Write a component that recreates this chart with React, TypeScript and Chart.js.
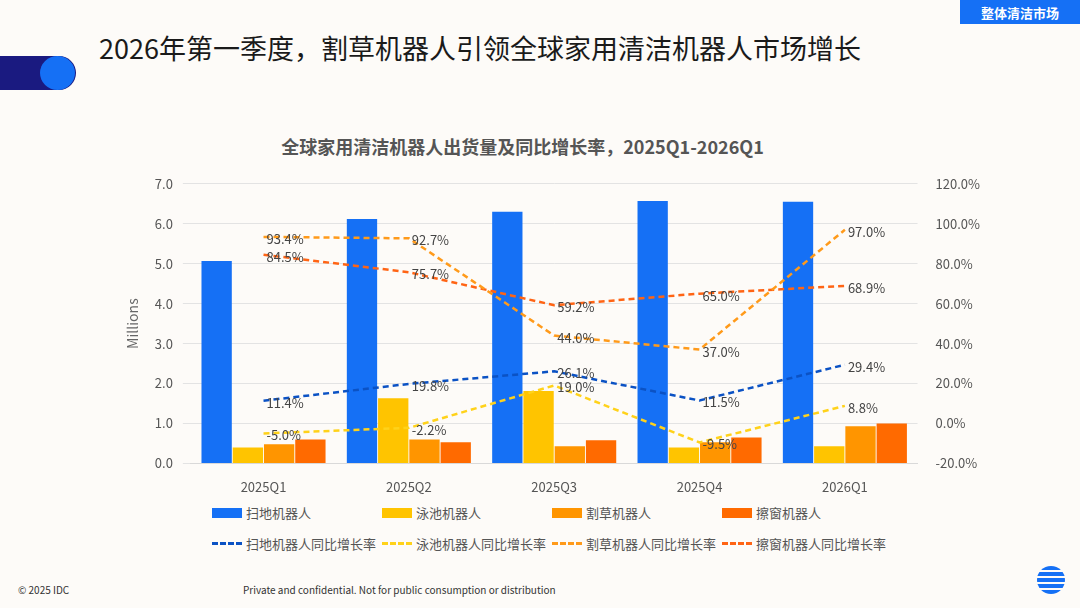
import React, { useEffect, useRef } from 'react'
import { Chart, registerables, type Plugin } from 'chart.js'

Chart.register(...registerables)

const quarters = ['2025Q1', '2025Q2', '2025Q3', '2025Q4', '2026Q1']
const barNames = ['扫地机器人', '泳池机器人', '割草机器人', '擦窗机器人']
const lineNames = ['扫地机器人同比增长率', '泳池机器人同比增长率', '割草机器人同比增长率', '擦窗机器人同比增长率']
const sweeper = [5.07, 6.12, 6.3, 6.57, 6.55]
const pool = [0.4, 1.63, 1.81, 0.4, 0.43]
const mower = [0.48, 0.6, 0.43, 0.53, 0.93]
const windowBot = [0.6, 0.53, 0.58, 0.65, 1.0]
const sweeperYoY = [11.4, 19.8, 26.1, 11.5, 29.4]
const poolYoY = [-5.0, -2.2, 19.0, -9.5, 8.8]
const mowerYoY = [93.4, 92.7, 44.0, 37.0, 97.0]
const windowYoY = [84.5, 75.7, 59.2, 65.0, 68.9]

const barColors = ['#1570F5', '#FFC400', '#FF9500', '#FF6A00']
const lineColors = ['#0B52C4', '#FFD21A', '#FF9A1A', '#FF6414']
const FONT = '"Noto Sans CJK SC", "Noto Sans", sans-serif'

const lineLabels: Plugin = {
  id: 'lineLabels',
  afterDatasetsDraw(chart) {
    const ctx = chart.ctx
    ctx.save()
    ctx.font = `13px ${FONT}`
    ctx.fillStyle = '#444'
    ctx.textBaseline = 'middle'
    chart.data.datasets.forEach((ds: any, i) => {
      if (ds.type !== 'line') return
      const meta = chart.getDatasetMeta(i)
      meta.data.forEach((pt: any, j) => {
        ctx.fillText(Number(ds.data[j]).toFixed(1) + '%', pt.x + 3, pt.y + 2)
      })
    })
    ctx.restore()
  },
}

export default function App() {
  const canvasRef = useRef<HTMLCanvasElement>(null)

  useEffect(() => {
    if (!canvasRef.current) return
    const bars = [sweeper, pool, mower, windowBot]
    const lines = [sweeperYoY, poolYoY, mowerYoY, windowYoY]
    const chart = new Chart(canvasRef.current, {
      type: 'bar',
      data: {
        labels: quarters,
        datasets: [
          ...bars.map((d, i) => ({
            type: 'bar' as const, label: barNames[i], data: d, backgroundColor: barColors[i],
            yAxisID: 'y', order: 2, categoryPercentage: 0.86, barPercentage: 0.97,
          })),
          ...lines.map((d, i) => ({
            type: 'line' as const, label: lineNames[i], data: d, borderColor: lineColors[i],
            backgroundColor: lineColors[i], borderDash: [6, 4], borderWidth: 2.5, pointRadius: 0,
            yAxisID: 'y1', order: 1, tension: 0,
          })),
        ],
      },
      options: {
        responsive: true,
        maintainAspectRatio: false,
        animation: false,
        layout: { padding: { top: 8, right: 4 } },
        plugins: { legend: { display: false }, tooltip: { enabled: false } },
        scales: {
          x: {
            grid: { display: false },
            border: { color: '#d9d9d9' },
            ticks: { color: '#555', font: { family: FONT, size: 13 }, padding: 8 },
          },
          y: {
            min: 0, max: 7,
            ticks: { stepSize: 1, color: '#555', font: { family: FONT, size: 13 }, callback: (v: any) => Number(v).toFixed(1), padding: 10 },
            grid: { color: '#e3e3e3' },
            border: { display: false },
            title: { display: true, text: 'Millions', color: '#666', font: { family: FONT, size: 14 } },
          },
          y1: {
            position: 'right', min: -20, max: 120,
            ticks: { stepSize: 20, color: '#555', font: { family: FONT, size: 13 }, callback: (v: any) => Number(v).toFixed(1) + '%', padding: 10 },
            grid: { display: false },
            border: { display: false },
          },
        },
      },
      plugins: [lineLabels],
    })
    return () => { chart.destroy() }
  }, [])

  const legendItem = (name: string, color: string, dashed: boolean) => (
    <div key={name} style={{ display: 'flex', alignItems: 'center', width: 170, fontSize: 13, color: '#555' }}>
      {dashed
        ? <span style={{ width: 30, borderTop: `3px dashed ${color}`, marginRight: 4 }} />
        : <span style={{ width: 30, height: 10, background: color, marginRight: 4 }} />}
      {name}
    </div>
  )

  return (
    <div style={{ position: 'fixed', inset: 0, background: '#FDFBF8', fontFamily: FONT, overflow: 'hidden' }}>
      <div style={{ position: 'absolute', left: 0, top: 56, width: 76, height: 34, background: '#1A1A80', borderRadius: '0 17px 17px 0' }} />
      <div style={{ position: 'absolute', left: 40, top: 56, width: 35, height: 34, background: '#1570F5', borderRadius: '50%' }} />
      <div style={{ position: 'absolute', left: 99, top: 28, fontSize: 27, color: '#1a1a1a' }}>2026年第一季度，割草机器人引领全球家用清洁机器人市场增长</div>
      <div style={{ position: 'absolute', right: 0, top: 0, width: 120, height: 24, background: '#1570F5', color: '#fff', fontSize: 13, fontWeight: 700, display: 'flex', alignItems: 'center', justifyContent: 'center' }}>整体清洁市场</div>
      <div style={{ position: 'absolute', left: 0, width: 1045, top: 133, textAlign: 'center', fontSize: 18, fontWeight: 700, color: '#555' }}>全球家用清洁机器人出货量及同比增长率，2025Q1-2026Q1</div>
      <div style={{ position: 'absolute', left: 120, top: 166, width: 874, height: 337 }}>
        <canvas ref={canvasRef} />
      </div>
      <div style={{ position: 'absolute', left: 212, top: 503, display: 'flex', flexWrap: 'wrap', width: 690, rowGap: 12 }}>
        {barNames.map((n, i) => legendItem(n, barColors[i], false))}
        {lineNames.map((n, i) => legendItem(n, lineColors[i], true))}
      </div>
      <div style={{ position: 'absolute', left: 18, top: 582, fontSize: 10, color: '#333' }}>© 2025 IDC</div>
      <div style={{ position: 'absolute', left: 243, top: 582, fontSize: 10, color: '#333' }}>Private and confidential. Not for public consumption or distribution</div>
      <div style={{ position: 'absolute', left: 1037, top: 566, width: 28, height: 28, borderRadius: '50%', background: 'repeating-linear-gradient(#1570F5 0 4px, #FDFBF8 4px 6px)' }} />
    </div>
  )
}
